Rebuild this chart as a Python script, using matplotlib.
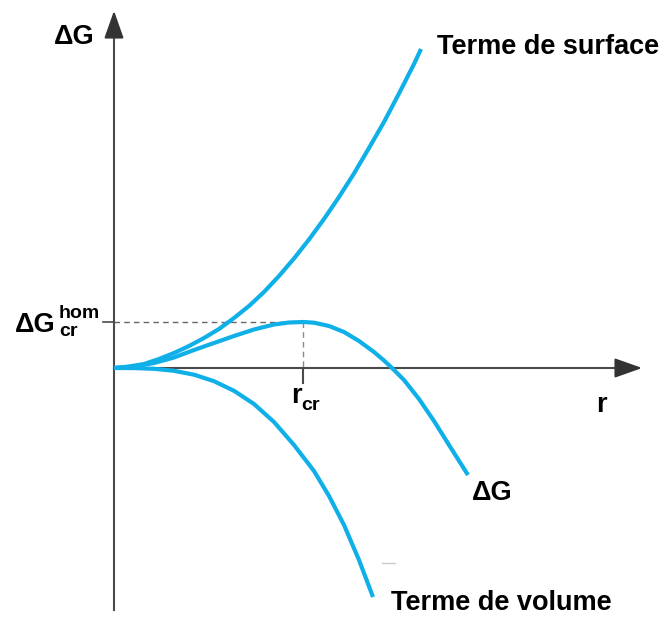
import matplotlib
matplotlib.use('Agg')
import matplotlib.pyplot as plt

# values (r, deltaG in arbitrary units)
r_surf = [0, 15, 30, 45, 60, 75, 90, 105, 120, 135, 150, 165, 180, 195,
          210, 225, 240, 255, 270, 285, 300, 307]
g_surf = [0, 1.5, 4, 9, 15, 22, 30, 39, 50, 62, 76, 92, 109.5, 128.5,
          149, 171, 194.5, 220, 246, 274.5, 304, 319]

r_tot = [0, 20, 40, 60, 80, 100, 120, 140, 160, 175, 189, 200, 215, 230,
         245, 260, 270, 278, 290, 305, 320, 335, 354]
g_tot = [0, 1.5, 5, 10.5, 18, 25, 32, 38.5, 43.5, 45.5, 46, 45.3, 42, 36,
         27, 16, 7.5, 0, -12, -31, -53, -77, -107]

r_vol = [0, 20, 40, 60, 80, 100, 120, 140, 160, 180, 200, 215, 230, 245, 259]
g_vol = [0, -0.1, -0.8, -2.8, -6.7, -13.2, -22.8, -36, -54, -77, -103,
         -128, -157, -192, -229]

r_cr = 189
g_cr = 46

blue = '#0fb0e8'
axcol = '#4a4a4a'
font = 'Liberation Sans'

fig = plt.figure(figsize=(6.64, 6.17), dpi=100)
ax = fig.add_axes([0, 0, 1, 1])
ax.set_xlim(-114, 550)
ax.set_ylim(-249, 368)
ax.axis('off')

# axes with arrows
ax.plot([0, 0], [-242, 345], color=axcol, lw=1.5, zorder=1)
ax.annotate('', xy=(0, 360), xytext=(0, 330),
            arrowprops=dict(arrowstyle='-|>,head_length=0.85,head_width=0.3',
                            color='#333333', lw=1.5, mutation_scale=20))
ax.plot([0, 516], [0, 0], color=axcol, lw=1.5, zorder=1)
ax.annotate('', xy=(531, 0), xytext=(500, 0),
            arrowprops=dict(arrowstyle='-|>,head_length=0.85,head_width=0.3',
                            color='#333333', lw=1.5, mutation_scale=20))

# critical point guides
ax.plot([0, r_cr], [g_cr, g_cr], color='#666666', lw=1, ls=(0, (4, 3)), zorder=1)
ax.plot([r_cr, r_cr], [g_cr, 0], color='#888888', lw=1, ls=(0, (4, 3)), zorder=1)
ax.plot([-11, 0], [g_cr, g_cr], color=axcol, lw=1.2, zorder=1)
ax.plot([r_cr, r_cr], [0, -15], color=axcol, lw=1.5, zorder=1)

# curves
for rr, gg in [(r_surf, g_surf), (r_tot, g_tot), (r_vol, g_vol)]:
    ax.plot(rr, gg, color=blue, lw=3, solid_joinstyle='round',
            solid_capstyle='butt', zorder=3)

tk = dict(family=font, fontweight='bold', color='black')
ax.text(-40, 331, 'ΔG', fontsize=19.5, ha='center', va='center', **tk)
ax.text(323, 321, 'Terme de surface', fontsize=19.5, ha='left', va='center', **tk)
ax.text(487, -37, 'r', fontsize=19.5, ha='center', va='center', **tk)
ax.text(182, -28, 'r', fontsize=19.5, ha='center', va='center', **tk)
ax.text(196, -38, 'cr', fontsize=14, ha='center', va='center', **tk)
ax.text(-59, 43, 'ΔG', fontsize=19.5, ha='right', va='center', **tk)
ax.text(-55, 54, 'hom', fontsize=14, ha='left', va='center', **tk)
ax.text(-55, 36, 'cr', fontsize=14, ha='left', va='center', **tk)
ax.text(358, -125, 'ΔG', fontsize=19.5, ha='left', va='center', **tk)
ax.text(277, -235, 'Terme de volume', fontsize=19.5, ha='left', va='center', **tk)
ax.plot([268, 281], [-195, -195], color='#cccccc', lw=1)

fig.savefig('out.png', dpi=100)
